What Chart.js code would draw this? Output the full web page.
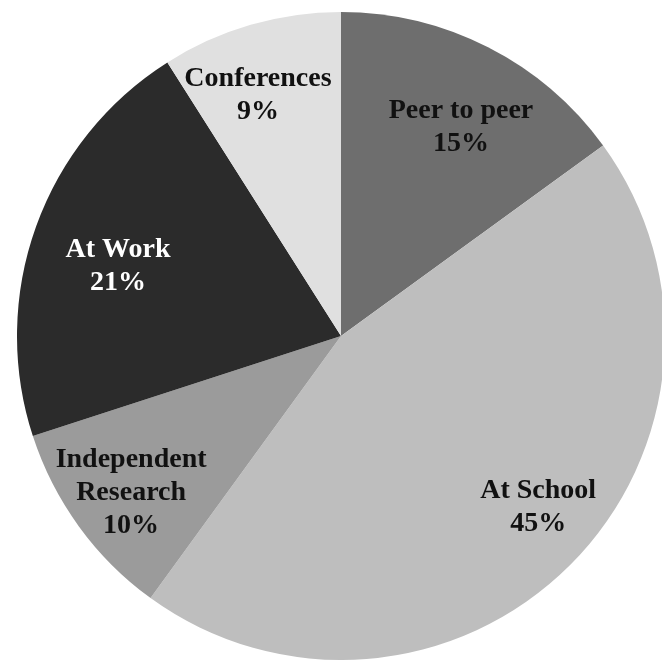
<!DOCTYPE html>
<html lang="en">
<head>
  <meta charset="UTF-8" />
  <title>Where learning happens</title>
  <script src="https://cdn.jsdelivr.net/npm/chart.js"></script>
  <style>
    html, body {
      margin: 0;
      background: #ffffff;
      overflow: hidden;
      width: 662px;
      height: 667px;
    }

    .chart-box {
      position: absolute;
      left: 17px;
      top: 12px;
      width: 648px;
      height: 648px;
    }
  </style>
</head>
<body>
  <div class="chart-box">
    <canvas id="pieChart"></canvas>
  </div>

  <script>
    // data, clockwise from 12 o'clock
    const categories = ["Peer to peer", "At School", "Independent\nResearch", "At Work", "Conferences"];
    const shares = [15, 45, 10, 21, 9];

    const sliceColors = ["#6e6e6e", "#bebebe", "#9b9b9b", "#2b2b2b", "#e0e0e0"];
    const textColors = ["#111111", "#111111", "#111111", "#ffffff", "#111111"];
    // label placement: fraction of radius, and a small turn (degrees) off the slice middle
    const labelReach = [0.743, 0.805, 0.808, 0.721, 0.787];
    const labelTurn = [2.9, -4.1, -0.7, -2.5, -2.8];

    // draws "name\nNN%" inside every slice
    const sliceLabels = {
      id: 'sliceLabels',
      afterDatasetsDraw(chart) {
        const ctx = chart.ctx;
        const meta = chart.getDatasetMeta(0);
        ctx.save();
        ctx.font = 'bold 28px "Liberation Serif", "Times New Roman", serif';
        ctx.textAlign = 'center';
        ctx.textBaseline = 'middle';
        meta.data.forEach((arc, i) => {
          const p = arc.getProps(['x', 'y', 'startAngle', 'endAngle', 'outerRadius'], true);
          const mid = (p.startAngle + p.endAngle) / 2 + labelTurn[i] * Math.PI / 180;
          const r = p.outerRadius * labelReach[i];
          const cx = p.x + Math.cos(mid) * r;
          const cy = p.y + Math.sin(mid) * r;
          const lines = categories[i].split("\n").concat(shares[i] + "%");
          const lh = 33;
          const top = cy - (lines.length - 1) * lh / 2;
          ctx.fillStyle = textColors[i];
          lines.forEach((t, k) => ctx.fillText(t, cx, top + k * lh));
        });
        ctx.restore();
      }
    };

    new Chart(document.getElementById('pieChart'), {
      type: 'pie',
      data: {
        labels: categories,
        datasets: [{
          data: shares,
          backgroundColor: sliceColors,
          borderWidth: 0
        }]
      },
      options: {
        responsive: true,
        maintainAspectRatio: false,
        animation: false,
        layout: { padding: 0 },
        plugins: {
          legend: { display: false },
          tooltip: { enabled: false }
        }
      },
      plugins: [sliceLabels]
    });
  </script>
</body>
</html>
